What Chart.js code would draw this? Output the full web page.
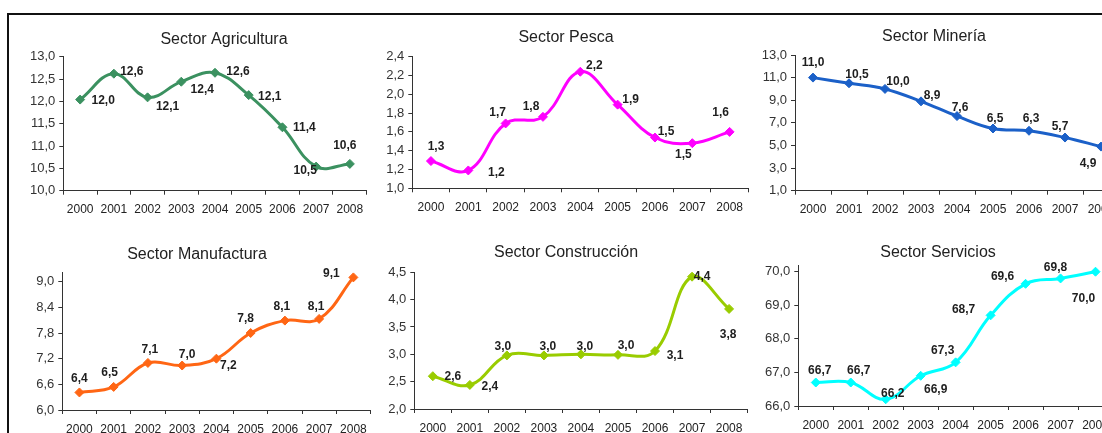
<!DOCTYPE html>
<html><head><meta charset="utf-8">
<script src="https://cdn.jsdelivr.net/npm/chart.js@4.4.0/dist/chart.umd.min.js"></script>
<style>
html,body{margin:0;padding:0;background:#fff;overflow:hidden;width:1102px;height:433px;position:relative;}
#frame{position:absolute;left:7px;top:13px;width:1200px;height:500px;border-top:2px solid #111;border-left:2px solid #111;}
canvas{position:absolute;}
</style></head><body>
<div id="frame"></div>
<canvas id="c1"></canvas><canvas id="c2"></canvas><canvas id="c3"></canvas>
<canvas id="c4"></canvas><canvas id="c5"></canvas><canvas id="c6"></canvas>
<script>
// ---- data ----
const years = ['2000','2001','2002','2003','2004','2005','2006','2007','2008'];
const agricultura  = [12.04, 12.62, 12.09, 12.44, 12.64, 12.14, 11.42, 10.54, 10.6];
const pesca        = [1.29, 1.19, 1.69, 1.76, 2.24, 1.89, 1.54, 1.48, 1.6];
const mineria      = [11.0, 10.5, 10.0, 8.9, 7.6, 6.5, 6.3, 5.7, 4.9];
const manufactura  = [6.41, 6.54, 7.1, 7.04, 7.2, 7.8, 8.09, 8.13, 9.1];
const construccion = [2.6, 2.44, 2.98, 2.98, 3.0, 2.99, 3.06, 4.42, 3.83];
const servicios    = [66.7, 66.7, 66.2, 66.9, 67.3, 68.7, 69.64, 69.8, 70.0];

const agriTicks  = [10.0, 10.5, 11.0, 11.5, 12.0, 12.5, 13.0];
const pescaTicks = [1.0, 1.2, 1.4, 1.6, 1.8, 2.0, 2.2, 2.4];
const minTicks   = [1.0, 3.0, 5.0, 7.0, 9.0, 11.0, 13.0];
const manTicks   = [6.0, 6.6, 7.2, 7.8, 8.4, 9.0];
const consTicks  = [2.0, 2.5, 3.0, 3.5, 4.0, 4.5];
const servTicks  = [66.0, 67.0, 68.0, 69.0, 70.0];

const fmt = v => v.toFixed(1).replace('.', ',');

// ---- styling / layout ----
const FONT = '"Liberation Sans", Arial, sans-serif';
const panels = [
  {id:'c1', title:'Sector Agricultura', data:agricultura, ticks:agriTicks, min:10, max:13, color:'#3b9160',
   area:[63.3,56.7,366.7,190.7], tpos:[224,40],
   offs:[[23,1],[18,-2],[20,9],[21,8],[23,-1],[21,2],[22,0],[-11,4],[-5,-18]]},
  {id:'c2', title:'Sector Pesca', data:pesca, ticks:pescaTicks, min:1.0, max:2.4, color:'#ff00ff',
   area:[412.3,56.7,748.3,188.3], tpos:[566,38],
   offs:[[5,-14],[28,2],[-8,-11],[-12,-10],[14,-6],[13,-5],[11,-6],[-9,12],[-9,-19]]},
  {id:'c3', title:'Sector Minería', data:mineria, ticks:minTicks, min:1, max:13, color:'#1b60c8',
   area:[795,55,1119,190.7], tpos:[934,37],
   offs:[[0,-15],[8,-9],[13,-7],[11,-6],[3,-8],[2,-10],[2,-12],[-5,-11],[-13,17]]},
  {id:'c4', title:'Sector Manufactura', data:manufactura, ticks:manTicks, min:6.0, max:9.21, color:'#ff6614',
   area:[62.3,272.7,370.5,410], tpos:[197,255],
   offs:[[0,-14],[-4,-14],[2,-13],[5,-11],[12,7],[-5,-14],[-3,-14],[-3,-12],[-22,-4]]},
  {id:'c5', title:'Sector Construcción', data:construccion, ticks:consTicks, min:2.0, max:4.5, color:'#99cc00',
   area:[414.3,272.3,747.6,409], tpos:[566,253],
   offs:[[20,0],[20,2],[-4,-9],[4,-9],[4,-8],[8,-9],[20,5],[10,0],[-1,26]]},
  {id:'c6', title:'Sector Servicios', data:servicios, ticks:servTicks, min:66, max:70.2, color:'#00ffff',
   area:[798.3,265,1113,406], tpos:[938,253],
   offs:[[4,-12],[8,-12],[7,-6],[15,14],[-13,-12],[-27,-6],[-23,-7],[-5,-11],[-12,27]]}
];

const labelPlugin = {
  id: 'vlabels',
  afterDatasetsDraw(chart, args, opts) {
    const ctx = chart.ctx;
    const meta = chart.getDatasetMeta(0);
    const vals = chart.data.datasets[0].data;
    ctx.save();
    ctx.textAlign = 'center';
    ctx.textBaseline = 'middle';
    ctx.fillStyle = '#1e1e1e';
    ctx.font = 'bold 12px ' + FONT;
    meta.data.forEach((pt, i) => {
      const o = opts.offs[i];
      ctx.fillText(fmt(vals[i]), pt.x + o[0], pt.y + o[1]);
    });
    ctx.fillStyle = '#222';
    ctx.font = '16px ' + FONT;
    ctx.fillText(opts.title, opts.tx, opts.ty);
    ctx.restore();
  }
};

const WY = 45, HX = 30;
panels.forEach(p => {
  const [L, T, R, B] = p.area;
  const x0 = Math.round(L) - 56;
  const y0 = p.tpos[1] - 14;
  const w = Math.round(R) - x0 + 10;
  const h = Math.round(B) + 34 - y0;
  const cv = document.getElementById(p.id);
  cv.style.left = x0 + 'px';
  cv.style.top = y0 + 'px';
  cv.style.width = w + 'px';
  cv.style.height = h + 'px';
  cv.width = w; cv.height = h;
  new Chart(cv, {
    type: 'line',
    data: {
      labels: years,
      datasets: [{
        data: p.data,
        borderColor: p.color,
        backgroundColor: p.color,
        borderWidth: 3,
        tension: 0.4,
        pointStyle: 'rectRot',
        pointRadius: 4.5,
        pointHoverRadius: 4.5,
        pointBorderWidth: 1,
        clip: false
      }]
    },
    options: {
      responsive: false,
      animation: false,
      events: [],
      layout: { padding: { left: L - x0 - WY, top: T - y0, right: x0 + w - R, bottom: (y0 + h) - B - HX } },
      plugins: {
        legend: { display: false },
        tooltip: { enabled: false },
        title: { display: false },
        vlabels: { offs: p.offs, title: p.title, tx: p.tpos[0] - x0, ty: p.tpos[1] - y0 }
      },
      scales: {
        x: {
          offset: true,
          afterFit: s => { s.height = HX; },
          grid: { offset: true, drawOnChartArea: false, drawTicks: true, tickLength: 4, color: '#333' },
          border: { display: true, color: '#333', width: 1 },
          ticks: { color: '#222', font: { family: '"Liberation Sans Narrow", "Arial Narrow", "Liberation Sans", sans-serif', size: 12 }, padding: 8, maxRotation: 0, autoSkip: false }
        },
        y: {
          min: p.min, max: p.max,
          afterFit: s => { s.width = WY; },
          afterBuildTicks: s => { s.ticks = p.ticks.map(v => ({ value: v })); },
          grid: { drawOnChartArea: false, drawTicks: true, tickLength: 4, color: '#333' },
          border: { display: true, color: '#333', width: 1 },
          ticks: { color: '#333', font: { family: FONT, size: 13 }, padding: 4, callback: v => fmt(v) }
        }
      }
    },
    plugins: [labelPlugin]
  });
});
</script>
</body></html>
